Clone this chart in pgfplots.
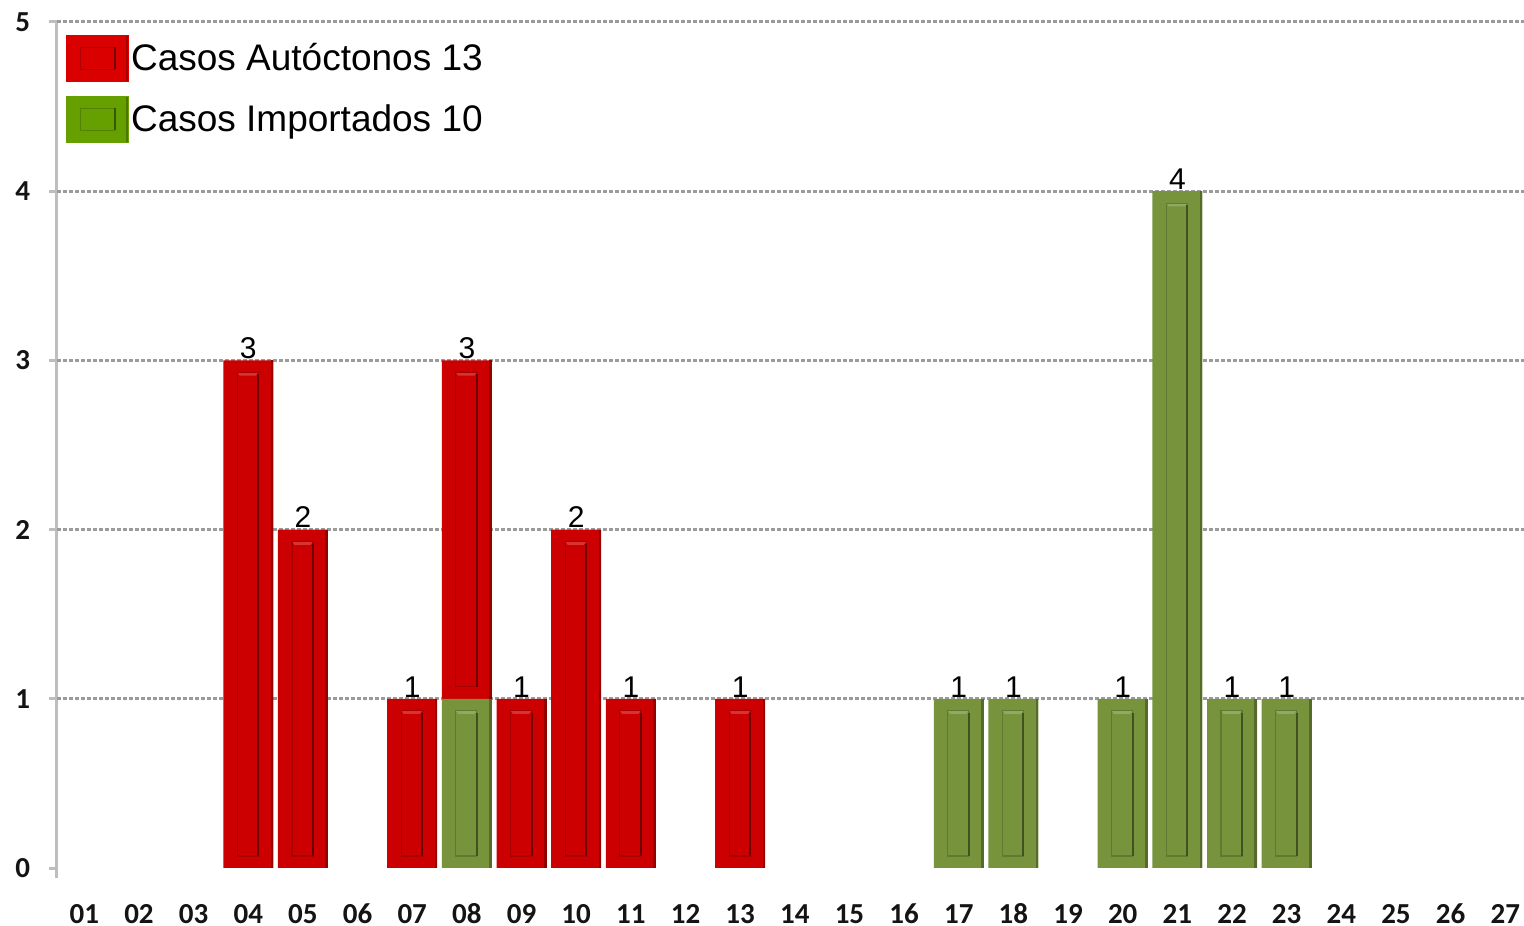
\documentclass[border=0pt]{standalone}
\usepackage{pgfplots}
\pgfplotsset{compat=1.18}
\usepackage{fontspec}
\setmainfont{Liberation Sans}
\newfontfamily\tickfont{Carlito}

\definecolor{barred}{RGB}{204,0,0}
\definecolor{bargreen}{RGB}{119,147,60}
\definecolor{legred}{RGB}{218,0,0}
\definecolor{leggreen}{RGB}{102,160,0}
\definecolor{gridgray}{RGB}{155,155,155}
\definecolor{axisgray}{RGB}{190,190,190}
\definecolor{ticktext}{RGB}{20,20,20}

\pgfplotsset{frame/.style={width=737.8bp, height=423bp, scale only axis,
    xmin=0.5, xmax=27.5, ymin=0, ymax=5}}

% bevel drawn as a mark on top of each bar segment (\ry = segment height, 1 unit = 84.6bp)
\newcommand\makebevel[2]{%
  \pgfdeclareplotmark{#1}{%
    \pgfmathparse{\ry>0.01}%
    \ifnum\pgfmathresult=1
      \pgfmathsetlengthmacro\bh{\ry*84.6bp}%
      \fill[fill=#2!72!black, draw=none] (11.2bp,-\bh) rectangle (12.5bp,0bp);
      \fill[fill=#2!80!white, draw=none] (-5.5bp,-6bp) -- (5bp,-6bp) -- (3.8bp,-7.6bp) -- (-4.3bp,-7.6bp) -- cycle;
      \draw[draw=#2!82!black, fill=none, line width=0.6bp] (-5.5bp,-6bp) rectangle (5bp,6bp-\bh);
      \draw[draw=#2!55!black, fill=none, line width=1bp] (5bp,-7bp) -- (5bp,6bp-\bh);
    \fi}}
\makebevel{bevelred}{barred}
\makebevel{bevelgreen}{bargreen}

\tikzset{
  legbevel/.style={path picture={
    \fill[#1!75!black] ([xshift=-1.2bp]path picture bounding box.south east)
        rectangle (path picture bounding box.north east);
    \draw[#1!80!black, line width=0.6bp]
        ([xshift=7bp,yshift=6bp]path picture bounding box.south west)
        rectangle ([xshift=-7bp,yshift=-6bp]path picture bounding box.north east);
    \draw[#1!55!black, line width=1bp]
        ([xshift=-7bp,yshift=6bp]path picture bounding box.south east)
        -- ([xshift=-7bp,yshift=-6bp]path picture bounding box.north east);
  }}
}

\begin{document}
\begin{tikzpicture}
\begin{axis}[
    frame,
    ybar stacked, bar width=0.915,
    xtick={1,...,27},
    xticklabels={01,02,03,04,05,06,07,08,09,10,11,12,13,14,15,16,17,18,19,20,21,22,23,24,25,26,27},
    xtick style={draw=none},
    minor xtick={0.5,1.5,...,27.5},
    minor x tick style={axisgray, line width=1.5bp},
    ytick={0,...,5},
    ytick style={axisgray, line width=1.5bp},
    extra y ticks={1,...,5}, extra y tick labels={},
    extra y tick style={grid=major, major tick length=0pt},
    major grid style={gridgray, line width=1.5bp, dash pattern=on 2bp off 1bp},
    tick align=outside, major tick length=4bp, minor tick length=5bp,
    axis x line*=bottom, axis y line*=left,
    x axis line style={draw=none},
    y axis line style={axisgray, line width=1.5bp, shorten <=-5bp, -},
    /pgf/number format/assume math mode=true,
    tick label style={font=\tickfont\bfseries\fontsize{14.5bp}{15bp}\selectfont, text=ticktext},
    xticklabel style={anchor=base, yshift=-23.5bp},
    yticklabel style={xshift=-6bp},
    legend style={at={(rel axis cs:0.006,0.985)}, anchor=north west, draw=none, fill=none,
        inner sep=0pt, row sep=7bp, nodes={inner sep=1bp},
        font=\fontsize{18.5bp}{20bp}\selectfont},
    legend cell align=left,
    visualization depends on={rawy \as \ry},
]
\addlegendimage{legend image code/.code={\fill[legred, legbevel=legred] (0bp,-11.5bp) rectangle (31bp,11.5bp);}}
\addlegendentry{Casos Autóctonos 13}
\addlegendimage{legend image code/.code={\fill[leggreen, legbevel=leggreen] (0bp,-11.5bp) rectangle (31bp,11.5bp);}}
\addlegendentry{Casos Importados 10}

% importados (bottom of the stack)
\addplot[fill=bargreen, draw=none, mark=bevelgreen, forget plot] coordinates {
 (1,0) (2,0) (3,0) (4,0) (5,0) (6,0) (7,0) (8,1) (9,0) (10,0) (11,0) (12,0) (13,0) (14,0)
 (15,0) (16,0) (17,1) (18,1) (19,0) (20,1) (21,4) (22,1) (23,1) (24,0) (25,0) (26,0) (27,0)
};
% autoctonos
\addplot[fill=barred, draw=none, mark=bevelred, forget plot] coordinates {
 (1,0) (2,0) (3,0) (4,3) (5,2) (6,0) (7,1) (8,2) (9,1) (10,2) (11,1) (12,0) (13,1) (14,0)
 (15,0) (16,0) (17,0) (18,0) (19,0) (20,0) (21,0) (22,0) (23,0) (24,0) (25,0) (26,0) (27,0)
};

\path (rel axis cs:0,0) ++(-28.5bp,-29bp) coordinate (bbsw);
\path (rel axis cs:1,1) ++(-4.3bp,11bp) coordinate (bbne);
\end{axis}

% weekly totals written above each bar
\begin{axis}[frame, hide axis]
\addplot[only marks, mark=none, point meta=explicit symbolic, nodes near coords,
    every node near coord/.append style={font=\fontsize{15bp}{16bp}\selectfont, text=black,
        anchor=base, inner sep=0pt, yshift=0.8bp}] coordinates {
 (4,3) [3] (5,2) [2] (7,1) [1] (8,3) [3] (9,1) [1] (10,2) [2] (11,1) [1] (13,1) [1]
 (17,1) [1] (18,1) [1] (20,1) [1] (21,4) [4] (22,1) [1] (23,1) [1]
};
\end{axis}
\pgfresetboundingbox
\path[use as bounding box] (bbsw) rectangle (bbne);
\end{tikzpicture}
\end{document}
